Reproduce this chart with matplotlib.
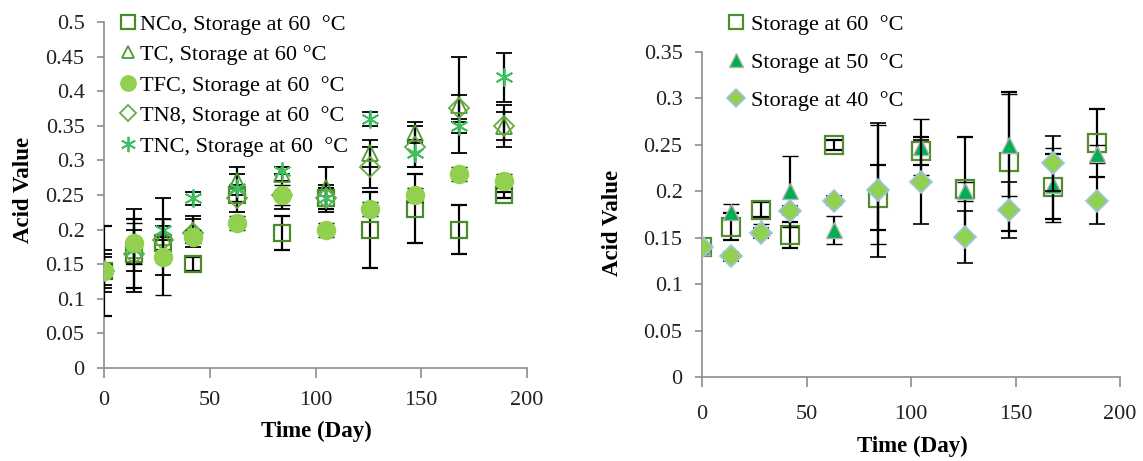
import matplotlib
matplotlib.use("Agg")
import matplotlib.pyplot as plt
from matplotlib.ticker import FuncFormatter

plt.rcParams['font.family'] = ['Liberation Serif', 'DejaVu Serif']

# ---------------- data ----------------
days = [0, 14, 28, 42, 63, 84, 105, 126, 147, 168, 189]

# left panel (storage at 60 °C)
nco = [0.14, 0.165, 0.18, 0.15, 0.25, 0.195, 0.245, 0.20, 0.23, 0.20, 0.25]
nco_err = [0.065, 0.05, 0.01, 0.01, 0.01, 0.025, 0.015, 0.055, 0.05, 0.035, 0.005]
tc = [0.14, 0.17, 0.19, 0.20, 0.27, 0.28, 0.26, 0.31, 0.34, 0.38, 0.35]
tc_err = [0.03, 0.03, 0.055, 0.02, 0.02, 0.01, 0.03, 0.02, 0.015, 0.07, 0.03]
tfc = [0.14, 0.18, 0.16, 0.19, 0.21, 0.25, 0.20, 0.23, 0.25, 0.28, 0.27]
tfc_err = [0.01, 0.03, 0.055, 0.01, 0.01, 0.015, 0.01, 0.01, 0.01, 0.01, 0.01]
tn8 = [0.14, 0.165, 0.185, 0.195, 0.245, 0.25, 0.245, 0.29, 0.32, 0.375, 0.35]
tn8_err = [0.02, 0.015, 0.02, 0.02, 0.02, 0.02, 0.02, 0.03, 0.03, 0.02, 0.02]
tnc = [0.14, 0.17, 0.20, 0.245, 0.26, 0.285, 0.245, 0.36, 0.31, 0.35, 0.42]
tnc_err = [0.025, 0.06, 0.015, 0.01, 0.02, 0.005, 0.015, 0.01, 0.02, 0.01, 0.035]

left_labels = ["NCo, Storage at 60  \u00b0C", "TC, Storage at 60 \u00b0C",
               "TFC, Storage at 60  \u00b0C", "TN8, Storage at 60  \u00b0C",
               "TNC, Storage at 60  \u00b0C"]

# right panel (NCo at different temperatures)
s60 = [0.14, 0.162, 0.18, 0.153, 0.25, 0.193, 0.243, 0.203, 0.232, 0.205, 0.252]
s60_err = [0.003, 0.015, 0.008, 0.014, 0.005, 0.035, 0.015, 0.055, 0.075, 0.035, 0.037]
s50 = [0.14, 0.178, 0.16, 0.20, 0.158, 0.207, 0.248, 0.20, 0.25, 0.207, 0.24]
s50_err = [0.003, 0.008, 0.005, 0.038, 0.015, 0.064, 0.03, 0.01, 0.055, 0.04, 0.01]
s40 = [0.14, 0.13, 0.155, 0.179, 0.19, 0.201, 0.21, 0.151, 0.18, 0.23, 0.19]
s40_err = [0.003, 0.005, 0.005, 0.005, 0.005, 0.072, 0.045, 0.028, 0.03, 0.03, 0.025]

right_labels = ["Storage at 60  \u00b0C", "Storage at 50  \u00b0C", "Storage at 40  \u00b0C"]

# ---------------- figure ----------------
W, H = 1143, 461
fig = plt.figure(figsize=(W / 100, H / 100), dpi=100)

ax1 = fig.add_axes([104 / W, 1 - 368 / H, 423 / W, 346 / H])
ax2 = fig.add_axes([702 / W, 1 - 377 / H, 418 / W, 325 / H])

FS = 16
spine_c = '#8c8c8c'
eb_kw = dict(ecolor='black', elinewidth=1.6, capsize=5.5, capthick=2.4, linestyle='none')

fmt = FuncFormatter(lambda v, p: ('%g' % round(v, 3)))

# left series
ax1.errorbar(days, nco, yerr=nco_err, marker='s', ms=12, mfc='none', mec='#4a8a2a', mew=1.6,
             label=left_labels[0], zorder=3, **eb_kw)
ax1.errorbar(days, tc, yerr=tc_err, marker='^', ms=11, mfc='none', mec='#4f9a32', mew=1.3,
             label=left_labels[1], zorder=3, **eb_kw)
ax1.errorbar(days, tfc, yerr=tfc_err, marker='o', ms=13, mfc='#92d050', mec='#92d050', mew=1,
             label=left_labels[2], zorder=4, **eb_kw)
ax1.errorbar(days, tn8, yerr=tn8_err, marker='D', ms=10, mfc='none', mec='#6aaa45', mew=1.3,
             label=left_labels[3], zorder=3, **eb_kw)
ax1.errorbar(days, tnc, yerr=tnc_err, marker=(6, 2, 0), ms=13, mfc='none', mec='#3cc060', mew=1.3,
             label=left_labels[4], zorder=3, **eb_kw)

ax1.set_xlim(0, 200)
ax1.set_ylim(0, 0.5)
ax1.set_xticks([0, 50, 100, 150, 200])
ax1.set_yticks([i * 0.05 for i in range(11)])
ax1.yaxis.set_major_formatter(fmt)
ax1.set_xlabel("Time (Day)", fontsize=FS + 0.5, fontweight='bold')
ax1.set_ylabel("Acid Value", fontsize=FS + 0.5, fontweight='bold')
ax1.xaxis.set_label_coords(0.502, -0.182)
ax1.yaxis.set_label_coords(-0.19, 0.514)

h, l = ax1.get_legend_handles_labels()
h = [hh[0] for hh in h]
leg1 = ax1.legend(h, l, loc='upper left', bbox_to_anchor=(120 / W, 1 - 14 / H),
                  bbox_transform=fig.transFigure, frameon=False, fontsize=FS,
                  handlelength=0.75, handletextpad=0.15, labelspacing=0.45, borderpad=0,
                  borderaxespad=0, markerscale=0.85)

# right series
ax2.errorbar(days, s60, yerr=s60_err, marker='s', ms=13, mfc='none', mec='#548a30', mew=1.6,
             label=right_labels[0], zorder=3, **eb_kw)
ax2.errorbar(days, s50, yerr=s50_err, marker='^', ms=12, mfc='#00b050', mec='#b0b0b0', mew=1.0,
             label=right_labels[1], zorder=4, **eb_kw)
ax2.errorbar(days, s40, yerr=s40_err, marker='D', ms=11, mfc='#92d050', mec='#9dc3e6', mew=1.2,
             label=right_labels[2], zorder=5, **eb_kw)

ax2.set_xlim(0, 200)
ax2.set_ylim(0, 0.35)
ax2.set_xticks([0, 50, 100, 150, 200])
ax2.set_yticks([i * 0.05 for i in range(8)])
ax2.yaxis.set_major_formatter(fmt)
ax2.set_xlabel("Time (Day)", fontsize=FS + 0.5, fontweight='bold')
ax2.set_ylabel("Acid Value", fontsize=FS + 0.5, fontweight='bold')
ax2.xaxis.set_label_coords(0.504, -0.215)
ax2.yaxis.set_label_coords(-0.215, 0.474)

h, l = ax2.get_legend_handles_labels()
h = [hh[0] for hh in h]
leg2 = ax2.legend(h, l, loc='upper left', bbox_to_anchor=(728 / W, 1 - 14 / H),
                  bbox_transform=fig.transFigure, frameon=False, fontsize=FS,
                  handlelength=0.75, handletextpad=0.3, labelspacing=0.79, borderpad=0,
                  borderaxespad=0, markerscale=0.8)

for ax, xpad in ((ax1, 9.5), (ax2, 13.5)):
    for s in ('top', 'right'):
        ax.spines[s].set_visible(False)
    for s in ('left', 'bottom'):
        ax.spines[s].set_color(spine_c)
        ax.spines[s].set_linewidth(1.2)
    ax.tick_params(axis='y', direction='out', length=5, width=1.2, color=spine_c, labelsize=FS, pad=9)
    ax.tick_params(axis='x', direction='out', length=7, width=1.2, color=spine_c, labelsize=FS, pad=xpad)
    for t in ax.get_xticklabels() + ax.get_yticklabels():
        t.set_color('#222222')
    ax.xaxis.label.set_va('center')
    ax.yaxis.label.set_va('center')

fig.savefig("out.png", dpi=100)
